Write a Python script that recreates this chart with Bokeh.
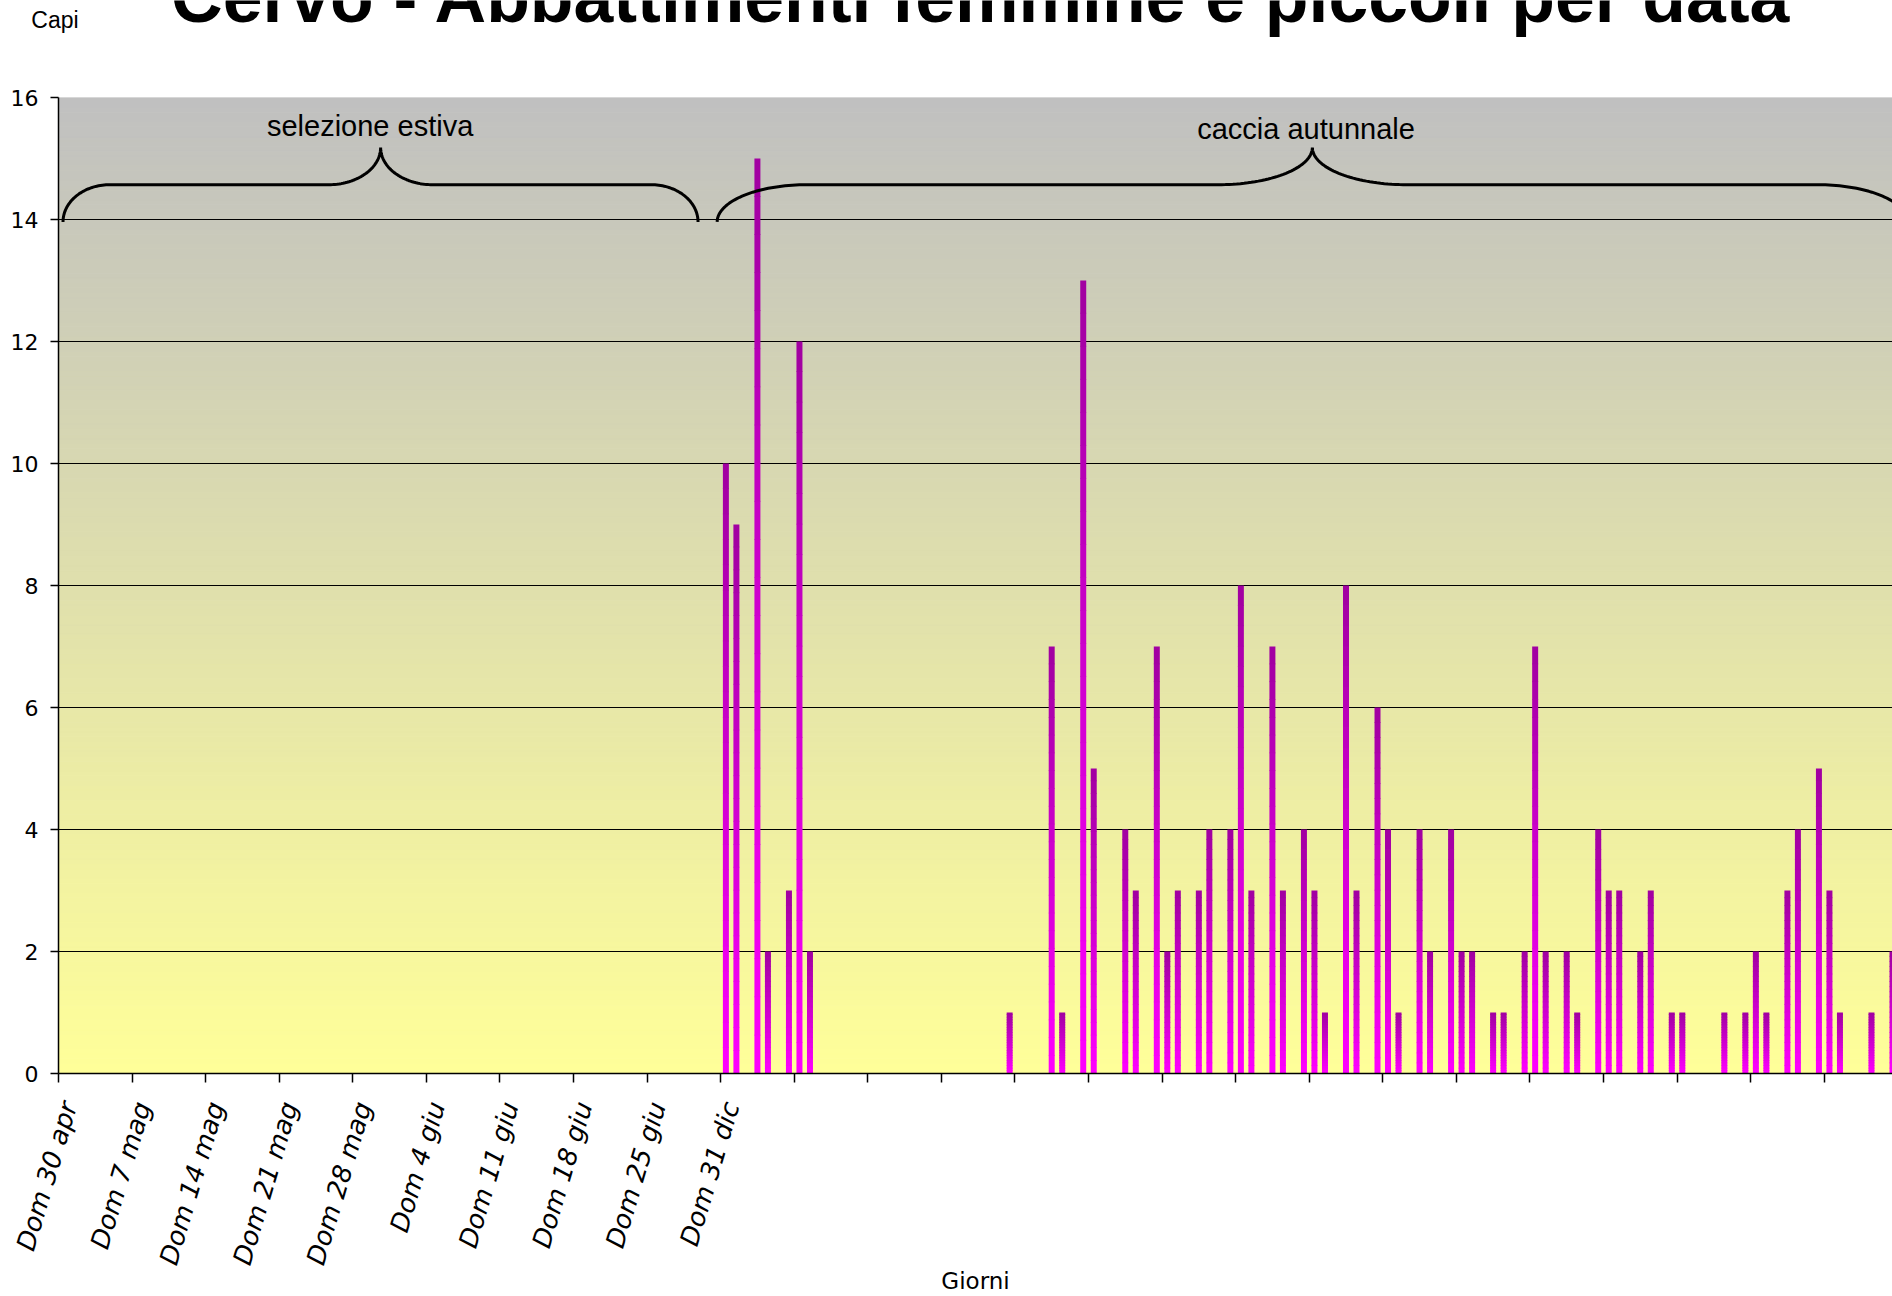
import numpy as np
from bokeh.plotting import figure
from bokeh.layouts import column
from bokeh.models import FixedTicker, Label, Range1d
from bokeh.embed import file_html
from bokeh.resources import INLINE

# ---------------- data ----------------
# category index (one category per day, counted from "Dom 30 apr")
giorni = [63, 64, 66, 67, 69, 70, 71, 90, 94, 95, 97, 98,
          101, 102, 104, 105, 106, 108, 109, 111, 112, 113,
          115, 116, 118, 119, 120, 122, 123, 125, 126, 127,
          129, 130, 132, 133, 134, 136, 137, 139, 140, 141,
          143, 144, 146, 147, 148, 150, 151, 153, 154,
          158, 160, 161, 162, 164, 165, 167, 168, 169, 172, 174]
capi = [10, 9, 15, 2, 3, 12, 2, 1, 7, 1, 13, 5,
        4, 3, 7, 2, 3, 3, 4, 4, 8, 3,
        7, 3, 4, 3, 1, 8, 3, 6, 4, 1,
        4, 2, 4, 2, 2, 1, 1, 2, 7, 2,
        2, 1, 4, 3, 3, 2, 3, 1, 1,
        1, 1, 2, 1, 3, 4, 5, 3, 1, 1, 2]
settimane = list(range(0, 169, 7))          # weekly tick categories
etichette = ["Dom 30 apr", "Dom 7 mag", "Dom 14 mag", "Dom 21 mag", "Dom 28 mag",
             "Dom 4 giu", "Dom 11 giu", "Dom 18 giu", "Dom 25 giu", "Dom 31 dic"]
y_ticks = [0, 2, 4, 6, 8, 10, 12, 14, 16]
periodi = ["selezione estiva", "caccia autunnale"]
titolo = "Cervo - Abbattimenti femmine e piccoli per data"
asse_y = "Capi"
asse_x = "Giorni"

# ---------------- layout ----------------
W, H = 1892, 1296
HT = 60                      # strip above the chart holding title and "Capi"
X_END = 174.5
ML, MT, MB = 58, 97 - HT, 220
LBL_SHIFT = 1.0              # rotated labels sit slightly right of their tick

# ---- top strip (title is cut by the top edge, as in the original) ----
t = figure(width=W, height=HT, x_range=Range1d(ML, W), y_range=Range1d(HT, 0),
           output_backend="svg", toolbar_location=None,
           x_axis_type=None, y_axis_type=None,
           min_border_left=ML, min_border_right=0, min_border_top=0, min_border_bottom=0)
t.outline_line_color = None
t.xgrid.visible = False
t.ygrid.visible = False
t.background_fill_color = "white"
t.border_fill_color = "white"
t.add_layout(Label(x=981, y=-4, text=titolo, text_align="center", text_baseline="alphabetic",
                   text_font="Liberation Sans", text_font_style="bold", text_font_size="71.5px",
                   text_color="black"))
t.add_layout(Label(x=54.5, y=19.5, text=asse_y, text_align="center", text_baseline="alphabetic",
                   text_font="Liberation Sans", text_font_size="23px", text_color="black"), "left")

# ---- main chart ----
p = figure(width=W, height=H - HT, x_range=Range1d(0, X_END), y_range=Range1d(0, 16),
           output_backend="svg", toolbar_location=None,
           min_border_left=ML, min_border_right=0, min_border_top=MT, min_border_bottom=MB)
p.outline_line_color = None
p.background_fill_color = "white"
p.border_fill_color = "white"

# background gradient (grey top -> pale yellow bottom)
nb = 200
edges = np.linspace(0, 16, nb + 1)
c_top = np.array([192, 192, 192])
c_bot = np.array([255, 255, 153])
fr = (edges[:-1] + edges[1:]) / 2 / 16
bg_cols = ["#%02x%02x%02x" % tuple(np.round(c_bot + (c_top - c_bot) * f).astype(int)) for f in fr]
p.quad(left=0, right=X_END, bottom=edges[:-1], top=edges[1:],
       fill_color=bg_cols, line_color=bg_cols, line_width=1, level="image")

# grid
p.xgrid.visible = False
p.ygrid.ticker = FixedTicker(ticks=y_ticks)
p.ygrid.grid_line_color = "black"
p.ygrid.grid_line_width = 1

# bars with vertical gradient
NSEG = 24
b_top = np.array([160, 0, 160])
b_bot = np.array([255, 0, 255])
bx, bb, bt, bc = [], [], [], []
for g, v in zip(giorni, capi):
    for k in range(NSEG):
        lo = v * k / NSEG
        hi = v * (k + 1) / NSEG
        if k < NSEG - 1:
            hi += 0.012
        f = (k + 0.5) / NSEG
        bx.append(g + 0.5)
        bb.append(lo)
        bt.append(hi)
        bc.append("#%02x%02x%02x" % tuple(np.round(b_bot + (b_top - b_bot) * f).astype(int)))
p.vbar(x=bx, width=0.57, bottom=bb, top=bt, fill_color=bc, line_color=None)


# curly braces
def brace(xs, xt, xe, ae, at, y0=13.96, ya=14.57, yt=15.18):
    s = np.linspace(0, np.pi / 2, 40)
    x1 = xs + ae - ae * np.cos(s)
    y1 = y0 + (ya - y0) * np.sin(s)
    x2 = xt - at + at * np.sin(s)
    y2 = yt - (yt - ya) * np.cos(s)
    x3 = xt + at - at * np.cos(s)
    y3 = yt - (yt - ya) * np.sin(s)
    x4 = xe - ae + ae * np.sin(s)
    y4 = y0 + (ya - y0) * np.cos(s)
    return np.concatenate([x1, x2, x3, x4]), np.concatenate([y1, y2, y3, y4])


for xs, xt, xe, ae, at in [(0.43, 30.65, 60.85, 4.45, 4.95), (62.67, 119.3, 175.93, 8.5, 9.0)]:
    bxs, bys = brace(xs, xt, xe, ae, at)
    p.line(bxs, bys, line_color="black", line_width=3)

p.add_layout(Label(x=29.65, y=15.54, text=periodi[0], text_align="center", text_baseline="alphabetic",
                   text_font="Liberation Sans", text_font_size="29px", text_color="black"))
p.add_layout(Label(x=118.7, y=15.49, text=periodi[1], text_align="center", text_baseline="alphabetic",
                   text_font="Liberation Sans", text_font_size="29px", text_color="black"))

# x axis: tick marks every week (minor ticks), labels on the first ten weeks
xa = p.xaxis[0]
lab_pos = [s + LBL_SHIFT for s in settimane[:len(etichette)]]
xa.ticker = FixedTicker(ticks=lab_pos, minor_ticks=settimane)
xa.major_label_overrides = {pos: lab for pos, lab in zip(lab_pos, etichette)}
xa.major_tick_line_color = None
xa.major_tick_out = 0
xa.major_tick_in = 0
xa.minor_tick_out = 9
xa.minor_tick_in = 0
xa.minor_tick_line_color = "black"
xa.minor_tick_line_width = 1.5
xa.major_label_orientation = 1.28
xa.major_label_text_font = "DejaVu Sans"
xa.major_label_text_font_style = "italic"
xa.major_label_text_font_size = "26px"
xa.major_label_text_color = "black"
xa.major_label_standoff = 20
xa.axis_line_color = "black"
xa.axis_line_width = 1.5
xa.axis_label = asse_x
xa.axis_label_text_font = "DejaVu Sans"
xa.axis_label_text_font_style = "normal"
xa.axis_label_text_font_size = "23px"
xa.axis_label_text_color = "black"
xa.axis_label_standoff = -8

ya = p.yaxis[0]
ya.ticker = FixedTicker(ticks=y_ticks)
ya.major_tick_out = 8
ya.major_tick_in = 0
ya.minor_tick_out = 0
ya.minor_tick_in = 0
ya.major_tick_line_color = "black"
ya.major_tick_line_width = 1.5
ya.major_label_text_font = "DejaVu Sans"
ya.major_label_text_font_size = "22px"
ya.major_label_text_color = "black"
ya.major_label_standoff = 12
ya.axis_line_color = "black"
ya.axis_line_width = 1.5

layout = column(t, p, spacing=0)
open("out.html", "w").write(file_html(layout, INLINE))
